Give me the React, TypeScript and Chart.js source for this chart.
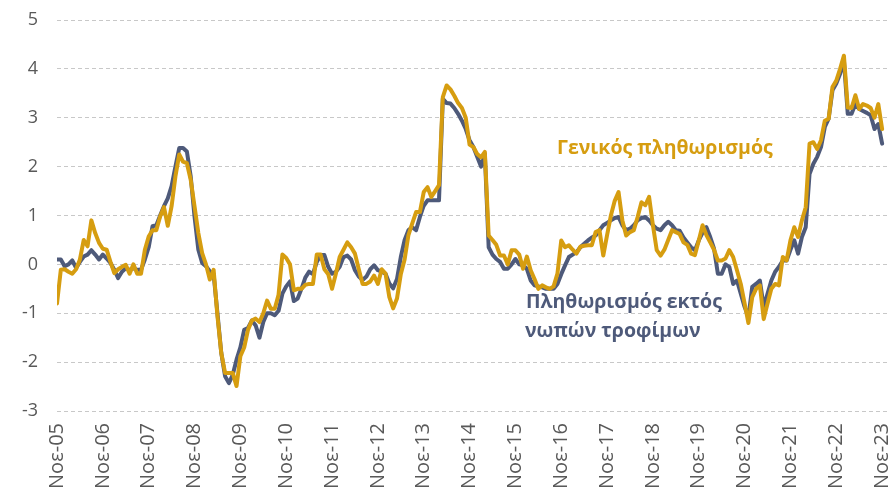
import React, { useEffect, useRef } from "react";
import { Chart, registerables } from "chart.js";

Chart.register(...registerables);

// Tick labels on the x axis (one every 12 months, Nov 2005 .. Nov 2023)
const TICK_LABELS = [
  "Νοε-05", "Νοε-06", "Νοε-07", "Νοε-08", "Νοε-09", "Νοε-10", "Νοε-11",
  "Νοε-12", "Νοε-13", "Νοε-14", "Νοε-15", "Νοε-16", "Νοε-17", "Νοε-18",
  "Νοε-19", "Νοε-20", "Νοε-21", "Νοε-22", "Νοε-23",
];

const SERIES_NAMES = ["Γενικός πληθωρισμός", "Πληθωρισμός εκτός", "νωπών τροφίμων"];

// Monthly values, Nov 2005 .. Nov 2023 (one row per Nov..Oct year)
const GENERAL = [
  -0.8, -0.11, -0.1, -0.15, -0.19, -0.1, 0.1, 0.5, 0.37, 0.9, 0.64, 0.44,
  0.32, 0.3, 0.05, -0.18, -0.1, -0.05, -0.01, -0.19, 0.0, -0.19, -0.19, 0.3,
  0.57, 0.7, 0.7, 0.98, 1.17, 0.79, 1.19, 1.8, 2.25, 2.1, 2.07, 1.73,
  1.19, 0.64, 0.23, 0.0, -0.31, -0.11, -1.06, -1.81, -2.22, -2.22, -2.22, -2.49,
  -1.88, -1.7, -1.34, -1.15, -1.11, -1.18, -1.0, -0.74, -0.91, -0.91, -0.62, 0.2,
  0.13, 0.0, -0.53, -0.5, -0.5, -0.42, -0.4, -0.4, 0.2, 0.2, -0.1, -0.2,
  -0.5, -0.19, 0.15, 0.3, 0.45, 0.35, 0.22, -0.1, -0.4, -0.4, -0.35, -0.23,
  -0.4, -0.1, -0.19, -0.67, -0.9, -0.7, -0.2, 0.1, 0.6, 0.84, 1.07, 1.07,
  1.48, 1.58, 1.38, 1.5, 1.62, 3.42, 3.66, 3.58, 3.45, 3.3, 3.2, 3.0,
  2.45, 2.4, 2.26, 2.19, 2.3, 0.59, 0.5, 0.4, 0.18, 0.18, 0.0, 0.29,
  0.29, 0.2, -0.09, 0.16, -0.12, -0.3, -0.5, -0.43, -0.47, -0.5, -0.45, -0.19,
  0.49, 0.35, 0.39, 0.3, 0.22, 0.36, 0.38, 0.39, 0.39, 0.66, 0.7, 0.18,
  0.6, 1.0, 1.3, 1.48, 0.9, 0.59, 0.66, 0.7, 0.97, 1.27, 1.21, 1.38,
  0.8, 0.29, 0.18, 0.3, 0.5, 0.7, 0.66, 0.62, 0.45, 0.4, 0.22, 0.19,
  0.49, 0.8, 0.6, 0.45, 0.3, 0.08, 0.08, 0.12, 0.29, 0.15, -0.12, -0.4,
  -0.8, -1.2, -0.67, -0.5, -0.43, -1.12, -0.8, -0.5, -0.4, -0.43, 0.15, 0.08,
  0.49, 0.76, 0.56, 0.9, 1.17, 2.47, 2.5, 2.36, 2.54, 2.94, 2.98, 3.63,
  3.76, 4.0, 4.27, 3.21, 3.2, 3.46, 3.18, 3.28, 3.25, 3.2, 3.0, 3.28,
  2.77,
];

const CORE = [
  0.1, 0.1, -0.04, 0.0, 0.08, -0.07, 0.05, 0.16, 0.2, 0.29, 0.2, 0.1,
  0.2, 0.12, 0.03, -0.11, -0.28, -0.15, -0.08, -0.11, -0.08, -0.11, -0.11, 0.1,
  0.35, 0.78, 0.8, 1.0, 1.19, 1.35, 1.6, 2.0, 2.38, 2.38, 2.31, 1.8,
  0.98, 0.3, 0.03, -0.04, -0.14, -0.2, -1.0, -1.81, -2.29, -2.43, -2.26, -1.95,
  -1.7, -1.34, -1.3, -1.15, -1.25, -1.5, -1.18, -1.0, -1.0, -1.04, -0.95, -0.6,
  -0.45, -0.35, -0.75, -0.7, -0.5, -0.27, -0.15, -0.2, 0.05, 0.19, 0.19, -0.05,
  -0.19, -0.15, -0.05, 0.15, 0.18, 0.1, -0.12, -0.25, -0.32, -0.25, -0.1, -0.02,
  -0.12, -0.15, -0.19, -0.39, -0.49, -0.3, 0.15, 0.5, 0.7, 0.76, 0.7, 0.97,
  1.2, 1.31, 1.31, 1.31, 1.31, 3.39, 3.3, 3.29, 3.2, 3.08, 2.94, 2.77,
  2.54, 2.4, 2.2, 2.0, 2.26, 0.35, 0.2, 0.11, 0.05, -0.09, -0.09, 0.0,
  0.11, 0.0, -0.02, -0.09, -0.33, -0.43, -0.45, -0.47, -0.5, -0.5, -0.5, -0.4,
  -0.2, -0.02, 0.15, 0.2, 0.25, 0.35, 0.42, 0.49, 0.55, 0.59, 0.7, 0.8,
  0.85, 0.9, 0.95, 0.97, 0.8, 0.7, 0.73, 0.8, 0.9, 0.95, 0.97, 0.9,
  0.8, 0.73, 0.7, 0.8, 0.87, 0.8, 0.7, 0.69, 0.55, 0.45, 0.35, 0.29,
  0.49, 0.65, 0.76, 0.56, 0.32, -0.19, -0.19, 0.0, -0.05, -0.4, -0.33, -0.6,
  -0.87, -1.08, -0.46, -0.4, -0.33, -0.87, -0.6, -0.33, -0.15, -0.05, 0.08, 0.08,
  0.3, 0.49, 0.22, 0.56, 0.76, 1.85, 2.06, 2.2, 2.4, 2.81, 2.98, 3.56,
  3.7, 3.9, 4.17, 3.08, 3.08, 3.28, 3.18, 3.14, 3.1, 3.05, 2.77, 2.87,
  2.47,
];

const ORANGE = "#D69D10";
const SLATE = "#4E5A7A";
const TEXT = "#595959";
const FONT = "'Open Sans', 'Noto Sans', 'DejaVu Sans', sans-serif";

const zeroPad = (s: any) => {
  s.paddingTop = 0;
  s.paddingBottom = 0;
  s.paddingLeft = 0;
  s.paddingRight = 0;
};

export default function App() {
  const ref = useRef<HTMLCanvasElement>(null);

  useEffect(() => {
    document.body.style.margin = "0";
    const annot = {
      id: "annot",
      afterDatasetsDraw(chart: any) {
        const ctx = chart.ctx;
        ctx.save();
        ctx.font = `bold 19.5px ${FONT}`;
        ctx.textAlign = "left";
        ctx.textBaseline = "alphabetic";
        ctx.fillStyle = ORANGE;
        ctx.fillText(SERIES_NAMES[0], 557, 154);
        ctx.fillStyle = SLATE;
        ctx.fillText(SERIES_NAMES[1], 526, 308);
        ctx.fillText(SERIES_NAMES[2], 525, 337);
        ctx.restore();
      },
    };

    const chart = new Chart(ref.current as HTMLCanvasElement, {
      type: "line",
      data: {
        datasets: [
          {
            label: SERIES_NAMES[0],
            data: GENERAL.map((y, x) => ({ x, y })),
            borderColor: ORANGE,
            borderWidth: 4,
            pointRadius: 0,
            tension: 0,
            borderJoinStyle: "round",
            borderCapStyle: "round",
          },
          {
            label: SERIES_NAMES[1] + " " + SERIES_NAMES[2],
            data: CORE.map((y, x) => ({ x, y })),
            borderColor: SLATE,
            borderWidth: 4,
            pointRadius: 0,
            tension: 0,
            borderJoinStyle: "round",
            borderCapStyle: "round",
          },
        ],
      },
      options: {
        responsive: false,
        animation: false,
        devicePixelRatio: 1,
        layout: { padding: { top: 20, right: 0, left: 0, bottom: 0 }, autoPadding: false },
        plugins: { legend: { display: false }, tooltip: { enabled: false } },
        scales: {
          x: {
            type: "linear",
            min: 0,
            max: 217.8,
            grid: { display: false, drawTicks: false },
            border: { display: false },
            afterBuildTicks: (s: any) => {
              s.ticks = TICK_LABELS.map((_, k) => ({ value: k * 12 }));
            },
            afterFit: (s: any) => {
              s.height = 82;
              zeroPad(s);
            },
            ticks: {
              autoSkip: false,
              minRotation: 90,
              maxRotation: 90,
              padding: 12,
              color: TEXT,
              font: { family: FONT, size: 20 },
              callback: (v: any) => TICK_LABELS[Math.round(Number(v) / 12)] ?? "",
            },
          },
          y: {
            min: -3,
            max: 5,
            afterFit: (s: any) => {
              s.width = 57;
              zeroPad(s);
            },
            ticks: {
              stepSize: 1,
              padding: 19,
              color: TEXT,
              font: { family: FONT, size: 18 },
            },
            grid: { color: "#C8C8C8", drawTicks: false, lineWidth: 1 },
            border: { display: false, dash: [4, 3] },
          },
        },
      },
      plugins: [annot],
    } as any);

    return () => chart.destroy();
  }, []);

  return (
    <div style={{ width: 889, height: 493 }}>
      <canvas ref={ref} width={889} height={493} />
    </div>
  );
}
